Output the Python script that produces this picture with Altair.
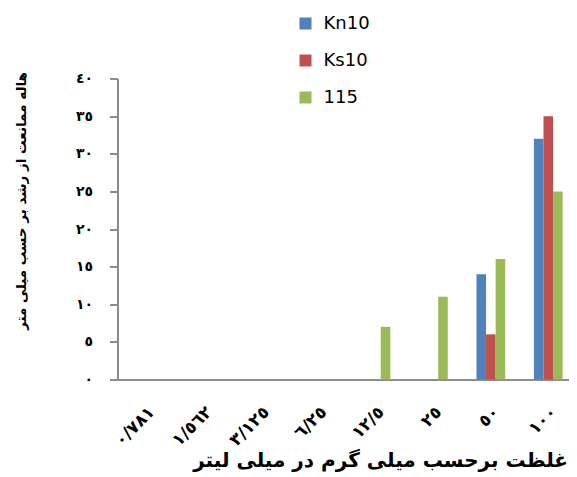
import altair as alt
import pandas as pd

categories = ["٠/٧٨١", "١/٥٦٢", "٣/١٢٥", "٦/٢٥", "١٢/٥", "٢٥", "٥٠", "١٠٠"]
series_names = ["Kn10", "Ks10", "115"]
kn10 = [0, 0, 0, 0, 0, 0, 14, 32]
ks10 = [0, 0, 0, 0, 0, 0, 6, 35]
s115 = [0, 0, 0, 0, 7, 11, 16, 25]
colors = ["#4F81BD", "#C0504D", "#9BBB59"]
y_tick_values = [0, 5, 10, 15, 20, 25, 30, 35, 40]
y_tick_labels = ["٠", "٥", "١٠", "١٥", "٢٠", "٢٥", "٣٠", "٣٥", "٤٠"]
y_title = "هاله ممانعت از رشد بر حسب میلی متر"
x_title = "غلظت برحسب میلی گرم در میلی لیتر"

rows = []
for name, vals in zip(series_names, [kn10, ks10, s115]):
    for c, v in zip(categories, vals):
        rows.append({"cat": c, "series": name, "value": v})
df = pd.DataFrame(rows)

expr = "''"
for v, l in reversed(list(zip(y_tick_values, y_tick_labels))):
    expr = f"datum.value == {v} ? '{l}' : ({expr})"

FONT = "DejaVu Sans"

chart = alt.Chart(df).mark_bar().encode(
    x=alt.X("cat:N", sort=categories,
            scale=alt.Scale(paddingInner=0.5, paddingOuter=0.25, range=[0, 459.5]),
            axis=alt.Axis(title=x_title, labelAngle=315, ticks=False,
                          labelFont=FONT, labelFontWeight="bold", labelFontSize=17,
                          labelColor="#000", labelPadding=24,
                          domainColor="#8C8C8C", domainWidth=2,
                          titleFont=FONT, titleFontSize=20, titleFontWeight="bold",
                          titleColor="#000", titleAlign="right", titleBaseline="alphabetic",
                          titleX=450, titleY=87)),
    xOffset=alt.XOffset("series:N", sort=series_names,
                        scale=alt.Scale(paddingInner=0, paddingOuter=0)),
    y=alt.Y("value:Q", scale=alt.Scale(domain=[0, 40], nice=False),
            axis=alt.Axis(title=y_title, values=y_tick_values, labelExpr=expr,
                          grid=False, tickSize=8, tickColor="#8C8C8C", tickWidth=2,
                          domainColor="#8C8C8C", domainWidth=2,
                          labelFont=FONT, labelFontWeight="bold", labelFontSize=14,
                          labelColor="#000", labelPadding=17,
                          titleFont=FONT, titleFontSize=13.5, titleFontWeight="bold",
                          titleColor="#000", titleAngle=270, titleAlign="center",
                          titleBaseline="middle", titleX=-96, titleY=122)),
    color=alt.Color("series:N", sort=series_names,
                    scale=alt.Scale(domain=series_names, range=colors),
                    legend=alt.Legend(title=None, orient="none", legendX=179, legendY=-64,
                                      symbolType="square", symbolSize=144,
                                      symbolStrokeWidth=0,
                                      labelFont="DejaVu Sans", labelFontSize=18,
                                      labelColor="#000", labelOffset=9,
                                      rowPadding=19)),
).properties(
    width=451.5, height=301,
    autosize=alt.AutoSizeParams(type="none"),
    padding={"left": 109.5, "top": 70.5, "right": 0, "bottom": 96},
).configure_view(stroke=None)

chart.save("out.html", embed_options={"renderer": "svg", "actions": False})
